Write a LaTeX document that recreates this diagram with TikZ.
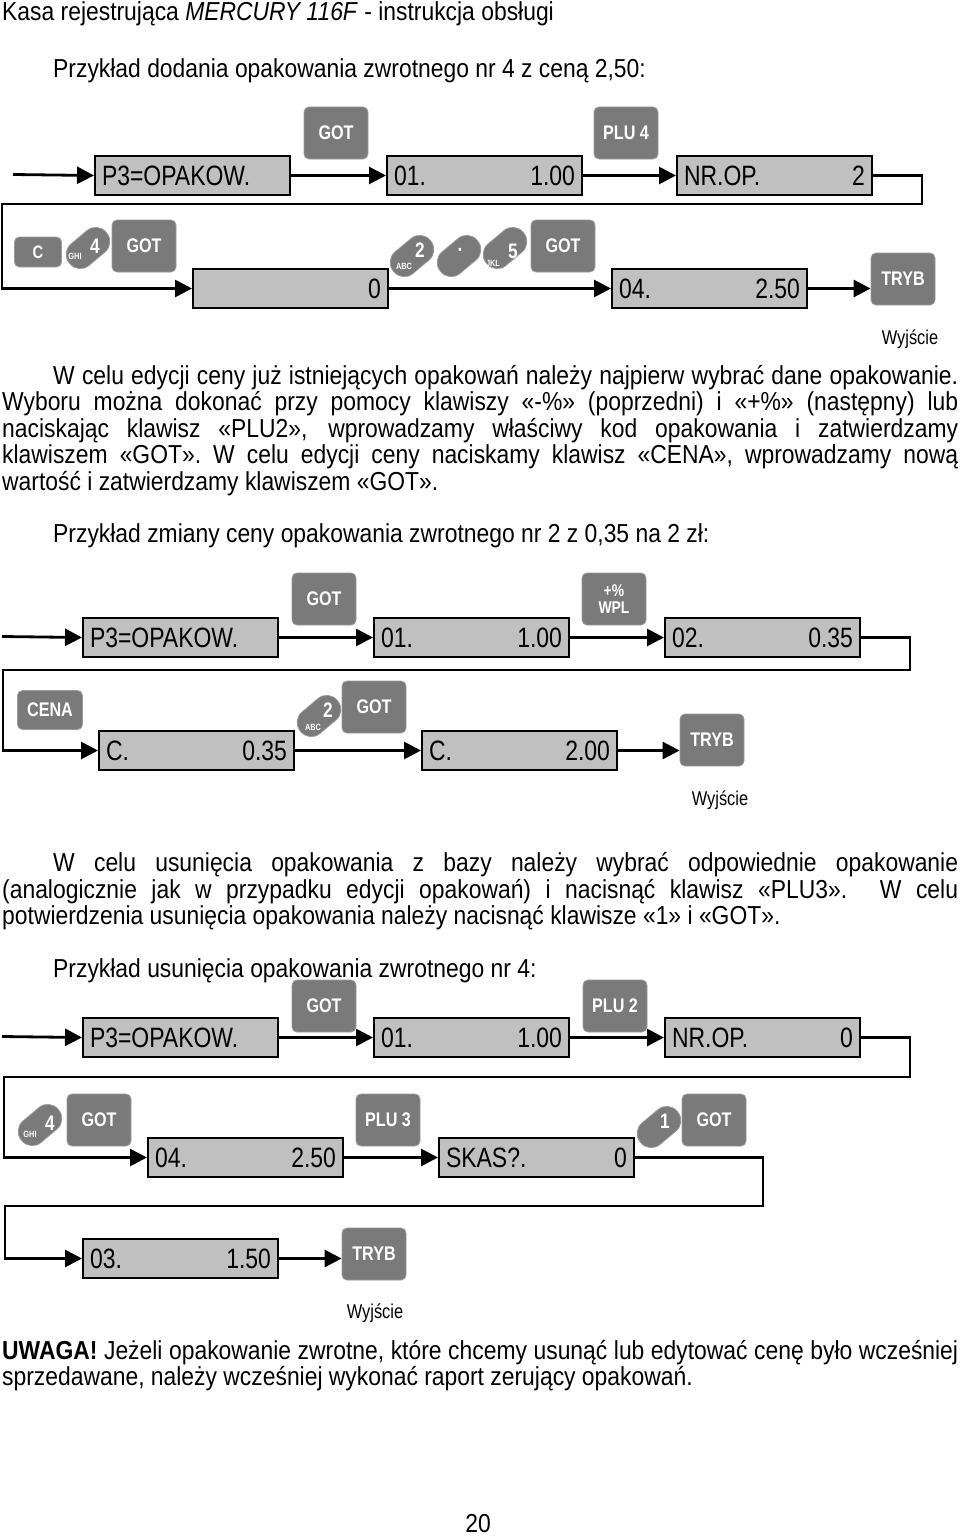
\documentclass[tikz,border=0pt]{standalone}
\usepackage{fontspec}
\setmainfont{Liberation Sans}[FakeStretch=0.88]
\newfontfamily\dfont{Liberation Sans}[FakeStretch=0.82]
\usetikzlibrary{arrows.meta}
\definecolor{keyc}{RGB}{122,122,122}
\definecolor{keyb}{RGB}{155,155,155}
\definecolor{dispc}{RGB}{192,192,192}
\tikzset{
 disp/.style={draw=black, line width=2pt, fill=dispc, anchor=north west, minimum width=195pt, minimum height=39pt, text width=181pt, inner xsep=7pt, inner ysep=0pt, align=left, font=\dfont\fontsize{28}{30}\selectfont},
 keybox/.style={draw=keyb, line width=0.8pt, fill=keyc, rounded corners=5pt, minimum width=64pt, minimum height=52pt, inner sep=0pt, text=white, align=center, font=\dfont\bfseries\fontsize{19.7}{21}\selectfont},
 smallkey/.style={keybox, minimum width=47pt, minimum height=30pt, font=\dfont\bfseries\fontsize{18}{19}\selectfont},
 pill/.style={draw=keyb, line width=0.8pt, fill=keyc, minimum width=48pt, minimum height=28pt, rounded corners=13.5pt, rotate=40, inner sep=0pt},
 pnum/.style={text=white, inner sep=0pt, font=\dfont\bfseries\fontsize{21}{22}\selectfont},
 plab/.style={text=white, inner sep=0pt, font=\dfont\bfseries\fontsize{9}{9}\selectfont},
 conn/.style={line width=2.8pt, -{Triangle[length=17pt,width=17pt]}},
 body/.style={anchor=base west, inner sep=0pt, font=\fontsize{26}{27}\selectfont},
 exitlab/.style={inner sep=0pt, font=\dfont\fontsize{20}{21}\selectfont},
}
\begin{document}
\begin{tikzpicture}[x=1pt,y=-1pt]
\fill[white] (0,0) rectangle (960,1536);
\useasboundingbox (0,0) rectangle (960,1536);

% ---------- texts ----------
\node[body] (t0) at (2,21) {Kasa rejestrująca \textit{MERCURY 116F} - instrukcja obsługi};
\node[body] (t1) at (53,78) {Przykład dodania opakowania zwrotnego nr 4 z ceną 2,50:};
\node[body] (p1a) at (53,384) {\makebox[905pt][s]{W celu edycji ceny już istniejących opakowań należy najpierw wybrać dane opakowanie.}};
\node[body] (p1b) at (2,410) {\makebox[956pt][s]{Wyboru można dokonać przy pomocy klawiszy «-\%» (poprzedni) i «+\%» (następny) lub}};
\node[body] (p1c) at (2,437) {\makebox[956pt][s]{naciskając klawisz «PLU2», wprowadzamy właściwy kod opakowania i zatwierdzamy}};
\node[body] (p1d) at (2,463) {\makebox[956pt][s]{klawiszem «GOT». W celu edycji ceny naciskamy klawisz «CENA», wprowadzamy nową}};
\node[body] (p1e) at (2,490) {wartość i zatwierdzamy klawiszem «GOT».};
\node[body] (t2) at (53,542) {Przykład zmiany ceny opakowania zwrotnego nr 2 z 0,35 na 2 zł:};
\node[body] (p2a) at (53,871) {\makebox[905pt][s]{W celu usunięcia opakowania z bazy należy wybrać odpowiednie opakowanie}};
\node[body] (p2b) at (2,898) {\makebox[956pt][s]{(analogicznie jak w przypadku edycji opakowań) i nacisnąć klawisz «PLU3». W celu}};
\node[body] (p2c) at (2,924) {potwierdzenia usunięcia opakowania należy nacisnąć klawisze «1» i «GOT».};
\node[body] (t3) at (53,977) {Przykład usunięcia opakowania zwrotnego nr 4:};
\node[body] (u1) at (2,1359) {\makebox[956pt][s]{\textbf{UWAGA!} Jeżeli opakowanie zwrotne, które chcemy usunąć lub edytować cenę było wcześniej}};
\node[body] (u2) at (2,1385) {sprzedawane, należy wcześniej wykonać raport zerujący opakowań.};
\node[body, anchor=base] (pg) at (478,1532) {20};

% ---------- diagram 1 ----------
\node[disp] (d11) at (94,155) {P3=OPAKOW.};
\node[disp] (d12) at (386,155) {01.\hfill 1.00};
\node[disp] (d13) at (676,155) {NR.OP.\hfill 2};
\node[disp] (d21) at (192,268) {\mbox{}\hfill 0};
\node[disp] (d22) at (611,268) {04.\hfill 2.50};
\coordinate (s1) at (13,174.5);
\node[keybox] (ty1) at (903,279) {TRYB};
\draw[conn] (s1) -- (d11.west);
\draw[conn] (d11.east) -- (d12.west);
\draw[conn] (d12.east) -- (d13.west);
\draw[conn] (d13.east) -| (922,204) -- (2,204) |- (d21.west);
\draw[conn] (d21.east) -- (d22.west);
\draw[conn] (d22.east) -- (d22.east -| ty1.west);
\node[keybox] (k11) at (336,133) {GOT};
\node[keybox] (k12) at (626,133) {PLU 4};
\node[smallkey] (kc) at (38,252) {C};
\node[pill] (p4a) at (88,248) {};
\node[pnum] (p4an) at (95,246) {4};
\node[plab] (p4al) at (75,256) {GHI};
\node[keybox] (k13) at (144,246) {GOT};
\node[pill] (p2a1) at (412,256) {};
\node[pnum] (p2an) at (420,250) {2};
\node[plab] (p2al) at (404,266) {ABC};
\node[pill] (pdot) at (459,256) {};
\node[pnum] (pdotn) at (460,250) {.};
\node[pill] (p5) at (505,248) {};
\node[pnum] (p5n) at (513,251) {5};
\node[plab] (p5l) at (493,263) {JKL};
\node[keybox] (k14) at (563,246) {GOT};
\node[exitlab] (w1) at (910,339) {Wyjście};

% ---------- diagram 2 ----------
\node[disp] (d31) at (82,617) {P3=OPAKOW.};
\node[disp] (d32) at (373,617) {01.\hfill 1.00};
\node[disp] (d33) at (664,617) {02.\hfill 0.35};
\node[disp] (d41) at (98,730) {C.\hfill 0.35};
\node[disp] (d42) at (421,730) {C.\hfill 2.00};
\coordinate (s2) at (2,636.5);
\node[keybox] (ty2) at (712,740) {TRYB};
\draw[conn] (s2) -- (d31.west);
\draw[conn] (d31.east) -- (d32.west);
\draw[conn] (d32.east) -- (d33.west);
\draw[conn] (d33.east) -| (910,670) -- (3,670) |- (d41.west);
\draw[conn] (d41.east) -- (d42.west);
\draw[conn] (d42.east) -- (d42.east -| ty2.west);
\node[keybox] (k21) at (324,599) {GOT};
\node[keybox, font=\dfont\bfseries\fontsize{17}{18}\selectfont] (k22) at (614,599) {+\%\\[-1pt]WPL};
\node[keybox, minimum width=65pt, minimum height=39pt] (kcena) at (50,710) {CENA};
\node[pill] (p2b1) at (319,716) {};
\node[pnum] (p2bn) at (328,710) {2};
\node[plab] (p2bl) at (313,727) {ABC};
\node[keybox] (k23) at (374,707) {GOT};
\node[exitlab] (w2) at (720,800) {Wyjście};

% ---------- diagram 3 ----------
\node[disp] (d51) at (82,1017) {P3=OPAKOW.};
\node[disp] (d52) at (373,1017) {01.\hfill 1.00};
\node[disp] (d53) at (664,1017) {NR.OP.\hfill 0};
\node[disp] (d61) at (147,1137) {04.\hfill 2.50};
\node[disp] (d62) at (438,1137) {SKAS?.\hfill 0};
\node[disp] (d71) at (82,1238) {03.\hfill 1.50};
\coordinate (s3) at (2,1036.5);
\node[keybox] (ty3) at (374,1254) {TRYB};
\draw[conn] (s3) -- (d51.west);
\draw[conn] (d51.east) -- (d52.west);
\draw[conn] (d52.east) -- (d53.west);
\draw[conn] (d53.east) -| (910,1077) -- (4,1077) |- (d61.west);
\draw[conn] (d61.east) -- (d62.west);
\draw[conn] (d62.east) -| (763,1206) -- (5,1206) |- (d71.west);
\draw[conn] (d71.east) -- (d71.east -| ty3.west);
\node[keybox] (k31) at (324,1006) {GOT};
\node[keybox] (k32) at (615,1006) {PLU 2};
\node[pill] (p4b) at (40,1125) {};
\node[pnum] (p4bn) at (50,1123) {4};
\node[plab] (p4bl) at (30,1134) {GHI};
\node[keybox] (k33) at (99,1120) {GOT};
\node[keybox] (k34) at (388,1120) {PLU 3};
\node[pill] (p1) at (659,1127) {};
\node[pnum] (p1n) at (665,1121) {1};
\node[keybox] (k35) at (714,1120) {GOT};
\node[exitlab] (w3) at (375,1313) {Wyjście};
\end{tikzpicture}
\end{document}
